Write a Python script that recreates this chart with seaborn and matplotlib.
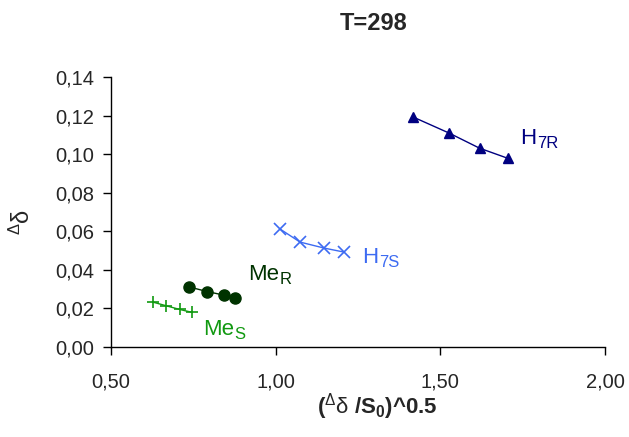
import numpy as np
import pandas as pd
import matplotlib
matplotlib.use("Agg")
import matplotlib.pyplot as plt
import matplotlib.transforms as mtransforms
import seaborn as sns

# ---- data ----
series_names = ["H7R", "H7S", "MeR", "MeS"]
h7r_x = [1.418, 1.527, 1.619, 1.704]
h7r_y = [0.1192, 0.1109, 0.1031, 0.0979]
h7s_x = [1.014, 1.074, 1.147, 1.208]
h7s_y = [0.0611, 0.0544, 0.0513, 0.0492]
mer_x = [0.736, 0.793, 0.843, 0.878]
mer_y = [0.0312, 0.0287, 0.0269, 0.0255]
mes_x = [0.629, 0.667, 0.708, 0.745]
mes_y = [0.0232, 0.0214, 0.0195, 0.0180]

xticks = [0.5, 1.0, 1.5, 2.0]
xtick_labels = ["0,50", "1,00", "1,50", "2,00"]
yticks = [0.00, 0.02, 0.04, 0.06, 0.08, 0.10, 0.12, 0.14]
ytick_labels = ["0,00", "0,02", "0,04", "0,06", "0,08", "0,10", "0,12", "0,14"]

title = "T=298"
label_main = {"H7R": "H", "H7S": "H", "MeR": "Me", "MeS": "Me"}
label_sub = {"H7R": "7R", "H7S": "7S", "MeR": "R", "MeS": "S"}
label_pos = {"H7R": (1.743, 0.1052), "H7S": (1.263, 0.0435),
             "MeR": (0.916, 0.0347), "MeS": (0.780, 0.0062)}

colors = {"H7R": "#000080", "H7S": "#3D6BF2", "MeR": "#003300", "MeS": "#119911"}
mks = {"H7R": "^", "H7S": "x", "MeR": "o", "MeS": "+"}
marker_sizes = {"H7R": 6.5, "H7S": 9, "MeR": 8, "MeS": 9}

df = pd.concat([
    pd.DataFrame({"x": h7r_x, "y": h7r_y, "s": "H7R"}),
    pd.DataFrame({"x": h7s_x, "y": h7s_y, "s": "H7S"}),
    pd.DataFrame({"x": mer_x, "y": mer_y, "s": "MeR"}),
    pd.DataFrame({"x": mes_x, "y": mes_y, "s": "MeS"}),
], ignore_index=True)

sns.set_style("white")
plt.rcParams["font.family"] = ["Liberation Sans", "DejaVu Sans"]
plt.rcParams["mathtext.fontset"] = "custom"
plt.rcParams["mathtext.rm"] = "Liberation Sans"
plt.rcParams["mathtext.it"] = "Liberation Sans:italic"
plt.rcParams["mathtext.bf"] = "Liberation Sans:bold"
plt.rcParams["mathtext.sf"] = "Liberation Sans"

fig = plt.figure(figsize=(6.29, 4.37), dpi=100)
ax = fig.add_axes([111 / 629, 1 - 347 / 437, 494 / 629, 270 / 437])

for name in series_names:
    sub = df[df["s"] == name]
    mk = mks[name]
    sns.lineplot(data=sub, x="x", y="y", ax=ax, color=colors[name], sort=False,
                 marker=mk, markersize=marker_sizes[name], linewidth=1,
                 markeredgewidth=1.2 if mk in ("x", "+") else 1,
                 markeredgecolor=colors[name], legend=False)

ax.set_xlim(0.5, 2.0)
ax.set_ylim(0.0, 0.14)
ax.set_xticks(xticks)
ax.set_xticklabels(xtick_labels)
ax.set_yticks(yticks)
ax.set_yticklabels(ytick_labels)
ax.tick_params(axis="both", direction="out", length=6, width=1, labelsize=14.5,
               color="black", bottom=True, left=True)
ax.tick_params(axis="y", pad=6)
ax.tick_params(axis="x", pad=12)
for side in ["top", "right"]:
    ax.spines[side].set_visible(False)
for side in ["left", "bottom"]:
    ax.spines[side].set_color("black")
    ax.spines[side].set_linewidth(1)

# series labels with subscripts
main_texts = {}
for name in series_names:
    tx, ty = label_pos[name]
    main_texts[name] = ax.text(tx, ty, label_main[name], color=colors[name],
                               fontsize=16, ha="left", va="baseline")
fig.canvas.draw()
renderer = fig.canvas.get_renderer()
for name in series_names:
    tx, ty = label_pos[name]
    w = main_texts[name].get_window_extent(renderer).width
    tr = mtransforms.offset_copy(ax.transData, fig=fig, x=w + 0.5, y=-4,
                                 units="dots")
    ax.text(tx, ty, label_sub[name], color=colors[name], fontsize=12,
            ha="left", va="baseline", transform=tr)

ax.set_xlabel(r"$\mathbf{(}^{\Delta}\mathrm{\delta}\ \mathbf{/S_0)}$^0.5",
              fontsize=16, fontweight="bold")
ax.xaxis.label.set_va("center")
ax.xaxis.set_label_coords((377 - 111) / 494, (347 - 407) / 270)

ax.set_ylabel(r"$^{\Delta}\mathrm{\delta}$", fontsize=17)
ax.yaxis.label.set_va("center")
ax.yaxis.set_label_coords((22 - 111) / 494, (347 - 222) / 270)

fig.text(374 / 629, 1 - 23 / 437, title, fontsize=17, fontweight="bold",
         ha="center", va="center")

fig.savefig("out.png", dpi=100)
